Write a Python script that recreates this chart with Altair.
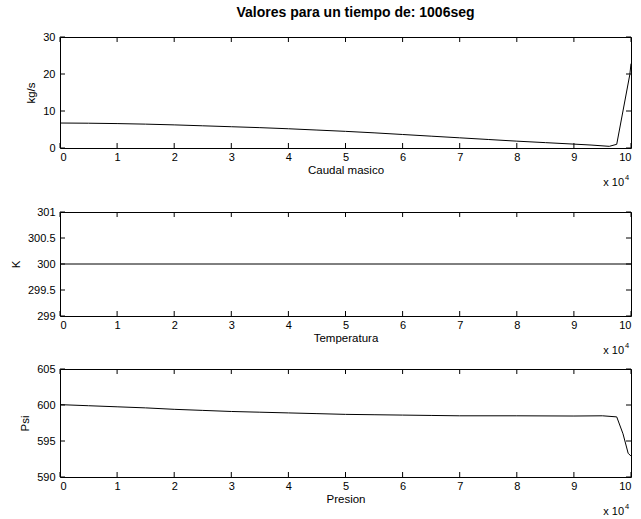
import altair as alt
import pandas as pd

# Distance along the line (m) for each sampled point
dist_caudal = [0, 5000, 10000, 15000, 20000, 25000, 30000, 35000, 40000, 45000,
               50000, 55000, 60000, 65000, 70000, 75000, 80000, 85000, 90000,
               93000, 96200, 97500, 99800, 100000]
caudal = [6.75, 6.7, 6.6, 6.45, 6.25, 6.0, 5.75, 5.5, 5.2, 4.85,
          4.5, 4.1, 3.65, 3.2, 2.75, 2.3, 1.85, 1.45, 1.05,
          0.8, 0.45, 1.0, 19.9, 22.8]

dist_temp = [0, 100000]
temperatura = [300, 300]

dist_pres = [0, 5000, 10000, 15000, 20000, 25000, 30000, 35000, 40000, 45000,
             50000, 55000, 60000, 65000, 70000, 80000, 90000, 95000, 97500,
             98600, 99500, 100000]
presion = [600.05, 599.9, 599.75, 599.6, 599.4, 599.25, 599.1, 599.0, 598.9, 598.8,
           598.7, 598.65, 598.6, 598.55, 598.5, 598.5, 598.47, 598.5, 598.35,
           596.0, 593.3, 592.9]

x_ticks = [0, 10000, 20000, 30000, 40000, 50000, 60000, 70000, 80000, 90000, 100000]

FONT = "Liberation Sans"
TICK = 5
W = 571


def panel(xs_vals, ys_vals, y_domain, y_ticks, y_fmt, y_title, x_title, h):
    df = pd.DataFrame({"d": xs_vals, "v": ys_vals})
    xt = pd.DataFrame({"t": x_ticks})
    yt = pd.DataFrame({"t": y_ticks})
    xs = alt.Scale(domain=[0, 100000], nice=False, zero=False)
    ys = alt.Scale(domain=y_domain, nice=False, zero=False)

    lab = dict(labelFont=FONT, labelFontSize=11, labelColor="black",
               titleFont=FONT, titleFontSize=11.5, titleColor="black",
               titleFontWeight="normal", grid=False, domain=False,
               ticks=False, tickSize=0, labelOverlap=False)

    line = alt.Chart(df).mark_line(color="black", strokeWidth=1, clip=True).encode(
        x=alt.X("d:Q", scale=xs, axis=alt.Axis(
            orient="bottom", values=x_ticks,
            labelExpr="format(datum.value / 10000, 'd')", labelPadding=3,
            title=x_title, titlePadding=2, **lab)),
        y=alt.Y("v:Q", scale=ys, axis=alt.Axis(
            orient="left", values=y_ticks, format=y_fmt, labelPadding=5,
            title=y_title, titlePadding=6, **lab)),
    )

    # inward tick marks on all four sides of the box
    tick_style = dict(color="black", strokeWidth=1)
    xb = alt.Chart(xt).mark_rule(**tick_style).encode(
        x=alt.X("t:Q", scale=xs, axis=None), y=alt.value(h), y2=alt.value(h - TICK))
    xtop = alt.Chart(xt).mark_rule(**tick_style).encode(
        x=alt.X("t:Q", scale=xs, axis=None), y=alt.value(0), y2=alt.value(TICK))
    yl = alt.Chart(yt).mark_rule(**tick_style).encode(
        y=alt.Y("t:Q", scale=ys, axis=None), x=alt.value(0), x2=alt.value(TICK))
    yr = alt.Chart(yt).mark_rule(**tick_style).encode(
        y=alt.Y("t:Q", scale=ys, axis=None), x=alt.value(W), x2=alt.value(W - TICK))

    # axis multiplier note under the right end of the x axis
    mult_df = pd.DataFrame({"d": [100000]})
    mult = alt.Chart(mult_df).mark_text(
        text="x 10", align="right", baseline="middle", dx=-7,
        font=FONT, fontSize=11, color="black"
    ).encode(x=alt.X("d:Q", scale=xs, axis=None), y=alt.value(h + 35))
    sup = alt.Chart(mult_df).mark_text(
        text="4", align="left", baseline="middle", dx=-6,
        font=FONT, fontSize=7.5, color="black"
    ).encode(x=alt.X("d:Q", scale=xs, axis=None), y=alt.value(h + 30))

    return alt.layer(line, xb, xtop, yl, yr, mult, sup).resolve_axis(
        x="independent", y="independent"
    ).properties(width=W, height=h)


p1 = panel(dist_caudal, caudal, [0, 30], [0, 10, 20, 30], "d", "kg/s",
           "Caudal masico", 111).properties(
    title=alt.TitleParams("Valores para un tiempo de: 1006seg", font=FONT,
                          fontSize=14, fontWeight="bold", color="black",
                          anchor="middle", dx=10, offset=11.5))
p2 = panel(dist_temp, temperatura, [299, 301], [299, 299.5, 300, 300.5, 301],
           ".1~f", "K", "Temperatura", 104)
p3 = panel(dist_pres, presion, [590, 605], [590, 595, 600, 605], "d", "Psi",
           "Presion", 108)

chart = alt.vconcat(
    p1,
    alt.vconcat(p2, p3, spacing=5),
    spacing=16,
).properties(
    padding={"left": 9, "top": 5, "right": 2, "bottom": 2},
    background="white",
).configure_view(stroke="black", strokeWidth=1)

chart.save("out.html", embed_options={"renderer": "svg", "actions": False})
